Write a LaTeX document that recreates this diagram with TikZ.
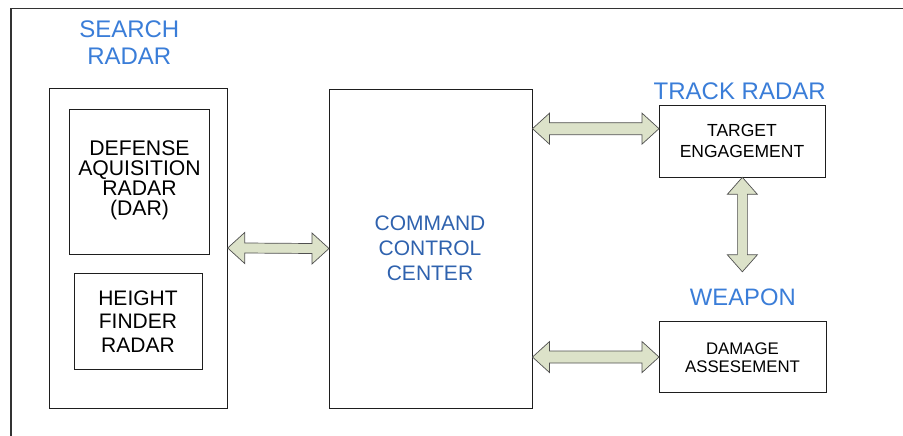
\documentclass[tikz,border=0pt]{standalone}
\usepackage{fontspec}
\setmainfont{Liberation Sans}
\usetikzlibrary{calc}

\definecolor{titleblue}{HTML}{3A7DD8}
\definecolor{cmdblue}{HTML}{2F62AE}
\definecolor{arrowfill}{HTML}{DCE2C9}
\definecolor{arrowline}{HTML}{505050}
\definecolor{boxline}{HTML}{1E1E1E}
\definecolor{frameline}{HTML}{333333}

\tikzset{
  blk/.style={draw=boxline, line width=0.9pt, rectangle, anchor=north west,
              inner sep=0pt, outer sep=0pt},
  frame/.style={draw=frameline, line width=1.1pt},
  conn/.style={fill=arrowfill, draw=arrowline, line width=0.7pt, line join=miter},
  ttl/.style={text=titleblue, align=center, anchor=base, inner sep=0pt,
              font=\fontsize{24}{27.7}\selectfont},
  cmdtxt/.style={text=cmdblue, align=center, anchor=base, inner sep=0pt,
              font=\fontsize{21}{24.6}\selectfont},
  boxtxt/.style={text=black, align=center, anchor=base, inner sep=0pt},
}

% horizontal double-headed block arrow: left tip, right tip, shaft half-width
\newcommand{\hdarrow}[3]{%
  \path[conn] let \p1=#1, \p2=#2 in
    (\x1,\y1) -- ({\x1+17pt},{\y1+15.5pt}) -- ({\x1+17pt},{\y1+#3})
    -- ({\x2-17pt},{\y2+#3}) -- ({\x2-17pt},{\y2+15.5pt}) -- (\x2,\y2)
    -- ({\x2-17pt},{\y2-15.5pt}) -- ({\x2-17pt},{\y2-#3})
    -- ({\x1+17pt},{\y1-#3}) -- ({\x1+17pt},{\y1-15.5pt}) -- cycle;}

% vertical double-headed block arrow: top tip, bottom tip, shaft half-width
\newcommand{\vdarrow}[3]{%
  \path[conn] let \p1=#1, \p2=#2 in
    (\x1,\y1) -- ({\x1+15pt},{\y1-17pt}) -- ({\x1+#3},{\y1-17pt})
    -- ({\x2+#3},{\y2+17pt}) -- ({\x2+15pt},{\y2+17pt}) -- (\x2,\y2)
    -- ({\x2-15pt},{\y2+17pt}) -- ({\x2-#3},{\y2+17pt})
    -- ({\x1-#3},{\y1-17pt}) -- ({\x1-15pt},{\y1-17pt}) -- cycle;}

\begin{document}
\begin{tikzpicture}[x=1pt,y=-1pt]
  \useasboundingbox (0,0) rectangle (903,436);

  % outer frame (open towards right and bottom)
  \draw[frame] (11,436) -- (11,8.3) -- (903,8.3);

  % blocks
  \node[blk, minimum width=178.4pt, minimum height=320pt] (search) at (49.3,88) {};
  \node[blk, minimum width=139.7pt, minimum height=145pt] (dar) at (69.3,109) {};
  \node[blk, minimum width=128.4pt, minimum height=95.7pt] (height) at (74.3,273.3) {};
  \node[blk, minimum width=203.5pt, minimum height=319pt] (command) at (329,89) {};
  \node[blk, minimum width=166.7pt, minimum height=72.3pt] (target) at (659,105) {};
  \node[blk, minimum width=167pt, minimum height=70.7pt] (damage) at (659,321.7) {};

  % group titles (base anchor sits on the last line)
  \node[ttl] (searchlbl) at (129.3,65) {SEARCH\\RADAR};
  \node[ttl] (tracklbl) at (739.7,99.3) {TRACK RADAR};
  \node[ttl, font=\fontsize{23.8}{27}\selectfont] (weaponlbl) at (742.8,305) {WEAPON};

  % block texts
  \node[boxtxt, font=\fontsize{21.2}{19.7}\selectfont] (dartxt) at (139.5,215)
       {DEFENSE\\AQUISITION\\RADAR\\(DAR)};
  \node[boxtxt, font=\fontsize{21}{23.6}\selectfont] (heighttxt) at (138,352.3)
       {HEIGHT\\FINDER\\RADAR};
  \node[cmdtxt] (cmdtxt) at (430,280) {COMMAND\\CONTROL\\CENTER};
  \node[boxtxt, font=\fontsize{17.5}{20.7}\selectfont] (targettxt) at (742,157.3)
       {TARGET\\ENGAGEMENT};
  \node[boxtxt, font=\fontsize{16.8}{18.7}\selectfont] (damagetxt) at (742.5,372.7)
       {DAMAGE\\ASSESEMENT};

  % connectors
  \coordinate (weapontip) at ($(target.south)+(0,94.5)$);
  \hdarrow{(search.east)}{(command.west)}{5pt}
  \hdarrow{($(command.east|-target.west)+(0,-12.5)$)}{($(target.west)+(0,-12.5)$)}{6pt}
  \hdarrow{(command.east|-damage.west)}{(damage.west)}{6pt}
  \vdarrow{(target.south)}{(weapontip)}{5pt}
\end{tikzpicture}
\end{document}
